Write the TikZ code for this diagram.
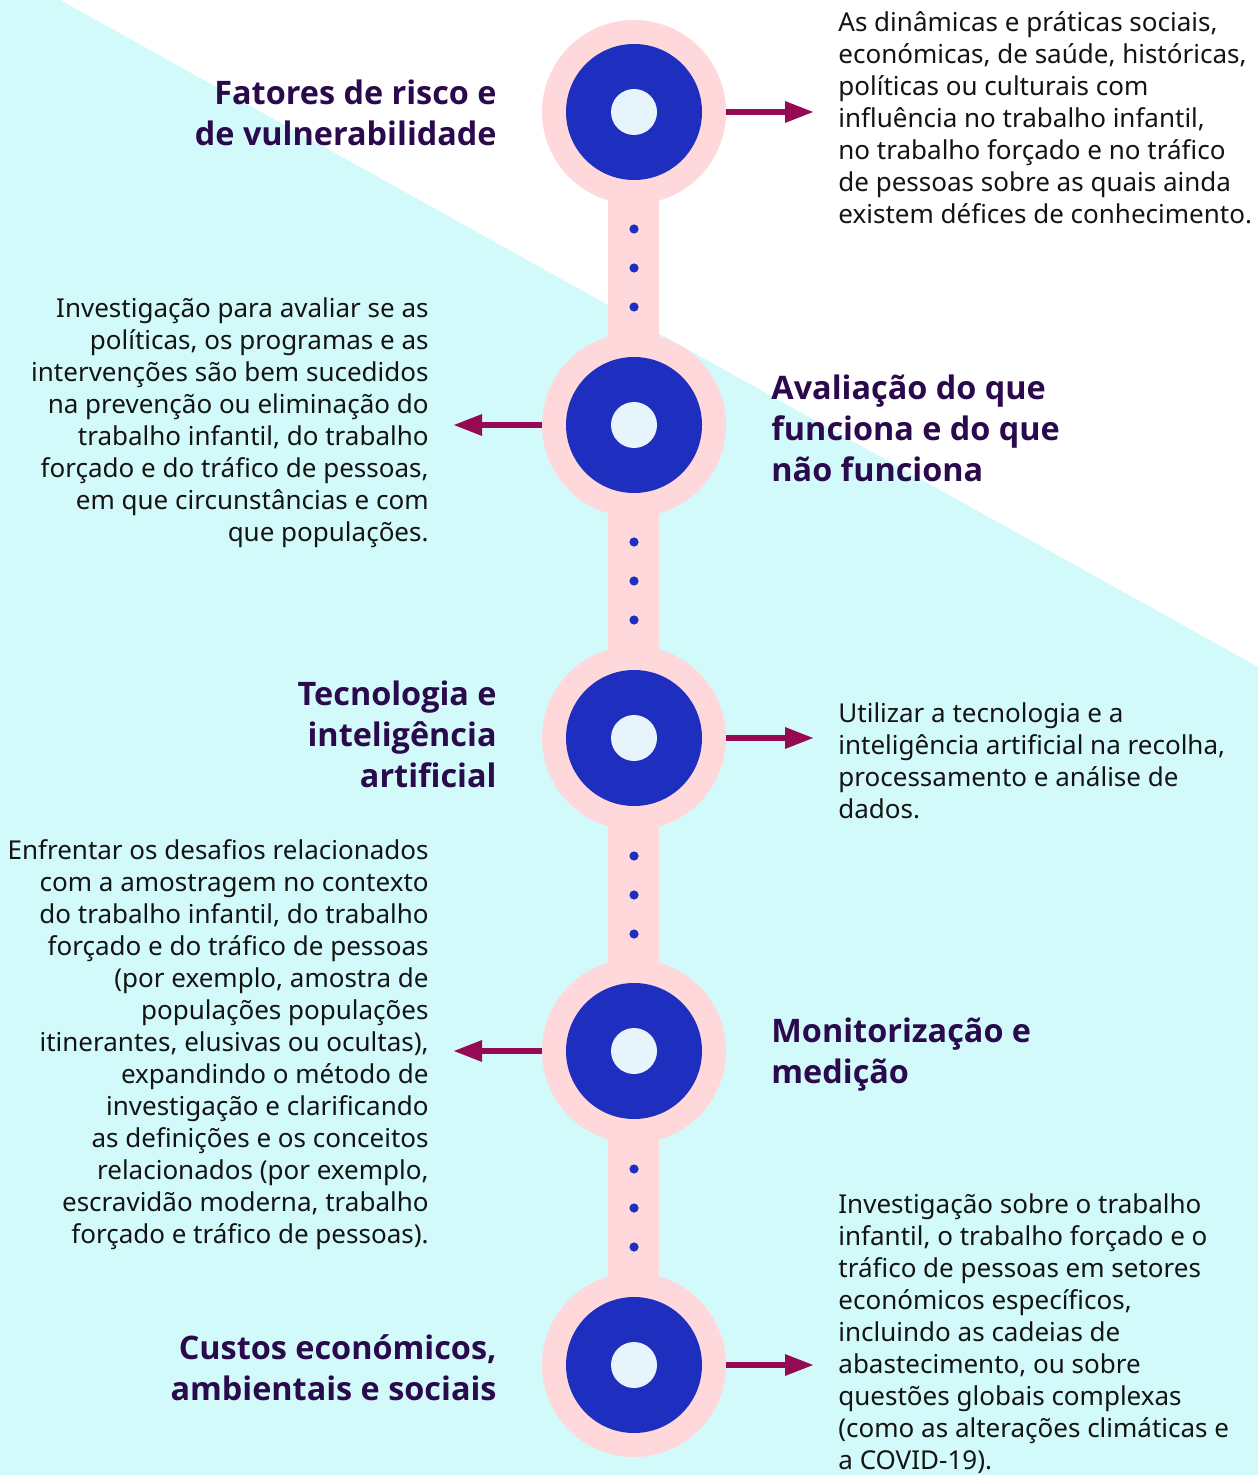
\documentclass[tikz,border=0pt]{standalone}
\usepackage{fontspec}
\setmainfont{Noto Sans}
\newfontfamily\headfont{Open Sans}
\usepackage{xcolor}
\usetikzlibrary{arrows.meta}

\definecolor{bgcyan}{HTML}{D2FAFA}
\definecolor{ringpink}{HTML}{FFD8DC}
\definecolor{hubblue}{HTML}{1E2EBE}
\definecolor{corelight}{HTML}{E8F4FC}
\definecolor{arrowred}{HTML}{950A52}
\definecolor{titlepurple}{HTML}{2A0A4C}
\definecolor{bodyink}{HTML}{141414}

\begin{document}
\begin{tikzpicture}[x=0.5pt,y=-0.5pt,
  ring/.style={circle,fill=ringpink,minimum size=92pt,inner sep=0pt},
  heading/.style={font=\headfont\bfseries\fontsize{16.2}{20.5}\selectfont,text=titlepurple,inner sep=0pt},
  blurb/.style={font=\fontsize{13}{16}\selectfont,text=bodyink,inner sep=0pt},
  link/.style={arrowred,line width=3pt,shorten >=12pt,-{Triangle[length=14.5pt,width=10pt]}}]
  % Fundo
  \useasboundingbox (0,0) rectangle (1258,1475);
  \fill[white] (0,0) rectangle (1258,1475);
  \fill[bgcyan] (0,0) -- (60,0) -- (1258,667) -- (1258,1475) -- (0,1475) -- cycle;

  % Linha do tempo
  \fill[ringpink] (608,112) rectangle (659,1365);
  \foreach \i/\y in {1/112,2/425,3/738,4/1051,5/1365} {
    \node[ring] (c\i) at (634,\y) {};
    \fill[hubblue] (c\i) circle (34pt);
    \fill[corelight] (c\i) circle (11.5pt);
  }
  \foreach \y in {229,268,307,542,581,620,856,895,934,1169,1208,1247}
    \fill[hubblue] (634,\y) circle (2.3pt);

  % Titulos
  \node[heading,anchor=east,align=right] (h1) at (497,113) {Fatores de risco e\\de vulnerabilidade};
  \node[heading,anchor=west,align=left] (h2) at (771,428) {Avaliação do que\\funciona e do que\\não funciona};
  \node[heading,anchor=east,align=right] (h3) at (497,734) {Tecnologia e\\inteligência\\artificial};
  \node[heading,anchor=west,align=left] (h4) at (771,1055) {Monitorização e\\medição};
  \node[heading,anchor=east,align=right] (h5) at (497,1368) {Custos económicos,\\ambientais e sociais};

  % Descricoes
  \node[blurb,anchor=west,align=left] (b1) at (838,118) {As dinâmicas e práticas sociais,\\económicas, de saúde, históricas,\\políticas ou culturais com\\influência no trabalho infantil,\\no trabalho forçado e no tráfico\\de pessoas sobre as quais ainda\\existem défices de conhecimento.};
  \node[blurb,anchor=east,align=right] (b2) at (429,423) {Investigação para avaliar se as\\políticas, os programas e as\\intervenções são bem sucedidos\\na prevenção ou eliminação do\\trabalho infantil, do trabalho\\forçado e do tráfico de pessoas,\\em que circunstâncias e com\\que populações.};
  \node[blurb,anchor=west,align=left] (b3) at (838,761) {Utilizar a tecnologia e a\\inteligência artificial na recolha,\\processamento e análise de\\dados.};
  \node[blurb,anchor=east,align=right] (b4) at (429,1045) {Enfrentar os desafios relacionados\\com a amostragem no contexto\\do trabalho infantil, do trabalho\\forçado e do tráfico de pessoas\\(por exemplo, amostra de\\populações populações\\itinerantes, elusivas ou ocultas),\\expandindo o método de\\investigação e clarificando\\as definições e os conceitos\\relacionados (por exemplo,\\escravidão moderna, trabalho\\forçado e tráfico de pessoas).};
  \node[blurb,anchor=west,align=left] (b5) at (838,1334) {Investigação sobre o trabalho\\infantil, o trabalho forçado e o\\tráfico de pessoas em setores\\económicos específicos,\\incluindo as cadeias de\\abastecimento, ou sobre\\questões globais complexas\\(como as alterações climáticas e\\a COVID-19).};

  % Setas
  \draw[link] (c1.east) -- (b1.west |- c1);
  \draw[link] (c2.west) -- (b2.east |- c2);
  \draw[link] (c3.east) -- (b3.west |- c3);
  \draw[link] (c4.west) -- (b4.east |- c4);
  \draw[link] (c5.east) -- (b5.west |- c5);
\end{tikzpicture}
\end{document}
